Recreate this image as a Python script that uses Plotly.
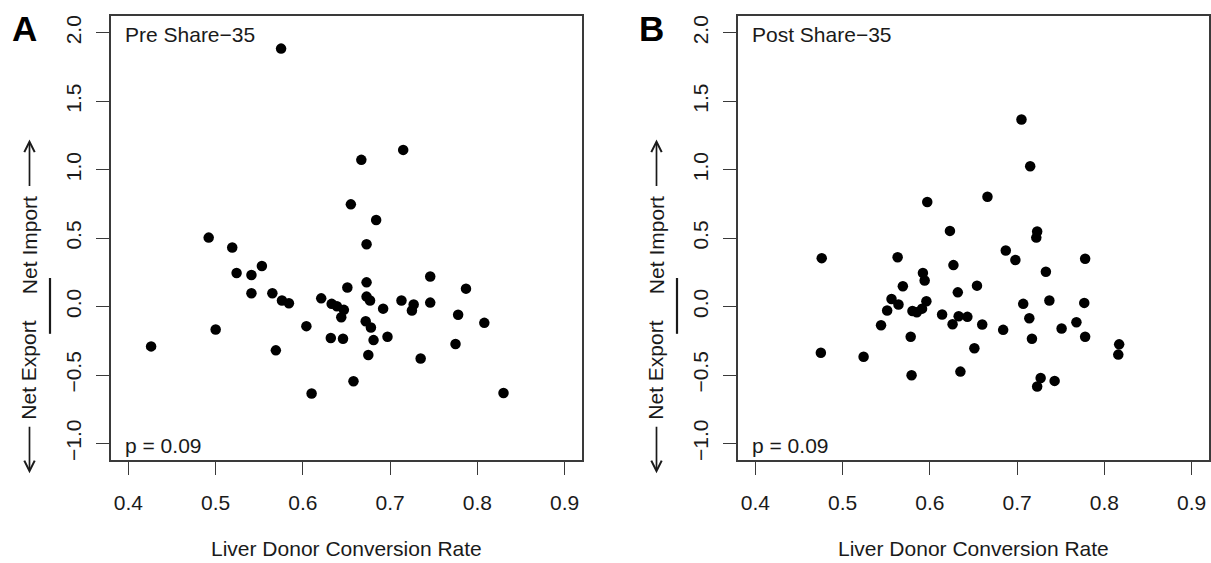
import plotly.graph_objects as go

# ---------------- data ----------------
pre_rate = [0.426, 0.492, 0.500, 0.519, 0.524, 0.541, 0.553, 0.541, 0.565, 0.569,
            0.575, 0.576, 0.584, 0.604, 0.610, 0.621, 0.633, 0.639, 0.644, 0.647,
            0.651, 0.655, 0.658, 0.632, 0.646, 0.667, 0.673, 0.673, 0.673, 0.677,
            0.672, 0.678, 0.681, 0.675, 0.684, 0.692, 0.697, 0.715, 0.713, 0.727,
            0.725, 0.735, 0.746, 0.746, 0.775, 0.778, 0.787, 0.808, 0.830]
pre_net = [-0.291, 0.504, -0.167, 0.432, 0.245, 0.231, 0.296, 0.097, 0.097, -0.320,
           1.885, 0.044, 0.024, -0.143, -0.635, 0.060, 0.020, 0.002, -0.078, -0.024,
           0.140, 0.747, -0.546, -0.230, -0.235, 1.072, 0.456, 0.177, 0.073, 0.044,
           -0.107, -0.153, -0.245, -0.354, 0.633, -0.015, -0.221, 1.145, 0.044, 0.015,
           -0.029, -0.380, 0.220, 0.029, -0.274, -0.060, 0.131, -0.119, -0.631]

post_rate = [0.476, 0.475, 0.524, 0.544, 0.551, 0.556, 0.563, 0.564, 0.569, 0.578,
             0.579, 0.580, 0.585, 0.591, 0.592, 0.594, 0.596, 0.597, 0.614, 0.623,
             0.626, 0.627, 0.632, 0.633, 0.635, 0.643, 0.651, 0.654, 0.660, 0.666,
             0.684, 0.687, 0.698, 0.705, 0.707, 0.714, 0.715, 0.717, 0.722, 0.723,
             0.723, 0.727, 0.733, 0.737, 0.743, 0.751, 0.768, 0.777, 0.778, 0.778,
             0.816, 0.817]
post_net = [0.354, -0.337, -0.366, -0.136, -0.029, 0.056, 0.361, 0.015, 0.148, -0.220,
            -0.502, -0.032, -0.041, -0.015, 0.245, 0.191, 0.039, 0.764, -0.058, 0.553,
            -0.129, 0.303, 0.104, -0.070, -0.475, -0.075, -0.305, 0.153, -0.131, 0.802,
            -0.170, 0.410, 0.340, 1.367, 0.020, -0.085, 1.025, -0.235, 0.504, 0.548,
            -0.584, -0.522, 0.255, 0.044, -0.543, -0.160, -0.114, 0.027, -0.220, 0.349,
            -0.351, -0.276]

x_ticks = [0.4, 0.5, 0.6, 0.7, 0.8, 0.9]
x_tick_labels = ["0.4", "0.5", "0.6", "0.7", "0.8", "0.9"]
y_ticks = [-1.0, -0.5, 0.0, 0.5, 1.0, 1.5, 2.0]
y_tick_labels = ["\u22121.0", "\u22120.5", "0.0", "0.5", "1.0", "1.5", "2.0"]

panel_letters = ["A", "B"]
panel_titles = ["Pre Share\u221235", "Post Share\u221235"]
p_labels = ["p = 0.09", "p = 0.09"]
x_title = "Liver Donor Conversion Rate"

# ---------------- figure ----------------
W, H = 1211, 563
FONT = "Liberation Sans, Arial, Helvetica, sans-serif"
TXT = "#1a1a1a"
LINE = "#3a3a3a"
FS = 21

def px(v):
    return v / W

def py(v):
    return 1 - v / H

fig = go.Figure()
fig.add_trace(go.Scatter(x=pre_rate, y=pre_net, mode="markers",
                         marker=dict(color="black", size=10.5),
                         xaxis="x", yaxis="y", hoverinfo="x+y"))
fig.add_trace(go.Scatter(x=post_rate, y=post_net, mode="markers",
                         marker=dict(color="black", size=10.5),
                         xaxis="x2", yaxis="y2", hoverinfo="x+y"))

common = dict(showgrid=False, zeroline=False, showline=True, mirror=True,
              linecolor=LINE, linewidth=1.5, ticks="outside", ticklen=13,
              tickwidth=1.3, tickcolor=LINE,
              tickfont=dict(family=FONT, size=FS, color=TXT))

left_dom = [px(111), px(582)]
right_dom = [px(738), px(1209)]
y_dom = [py(460.5), py(15.5)]

fig.update_layout(
    width=W, height=H,
    margin=dict(l=0, r=0, t=0, b=0),
    plot_bgcolor="white", paper_bgcolor="white",
    showlegend=False,
    xaxis=dict(domain=left_dom, range=[0.38, 0.92], tickvals=x_ticks,
               ticktext=x_tick_labels, anchor="y", ticklabelstandoff=10, **common),
    yaxis=dict(domain=y_dom, range=[-1.12, 2.12], tickvals=y_ticks,
               ticktext=y_tick_labels, tickangle=-90, anchor="x",
               ticklabelstandoff=7, **common),
    xaxis2=dict(domain=right_dom, range=[0.38, 0.92], tickvals=x_ticks,
                ticktext=x_tick_labels, anchor="y2", ticklabelstandoff=10, **common),
    yaxis2=dict(domain=y_dom, range=[-1.12, 2.12], tickvals=y_ticks,
                ticktext=y_tick_labels, tickangle=-90, anchor="x2",
                ticklabelstandoff=7, **common),
)

annotations = []
shapes = []
for i, off in enumerate([0, 627]):
    # panel letter
    annotations.append(dict(text="<b>%s</b>" % panel_letters[i], x=px(10 + off), y=py(28),
                            xref="paper", yref="paper", xanchor="left", yanchor="middle",
                            showarrow=False, font=dict(family=FONT, size=35, color="black")))
    # panel title
    annotations.append(dict(text=panel_titles[i], x=px(123 + off), y=py(34),
                            xref="paper", yref="paper", xanchor="left", yanchor="middle",
                            showarrow=False, font=dict(family=FONT, size=FS, color=TXT)))
    # p-value
    annotations.append(dict(text=p_labels[i], x=px(123 + off), y=py(446),
                            xref="paper", yref="paper", xanchor="left", yanchor="middle",
                            showarrow=False, font=dict(family=FONT, size=FS, color=TXT)))
    # x title
    annotations.append(dict(text=x_title, x=px(346.5 + off), y=py(549),
                            xref="paper", yref="paper", xanchor="center", yanchor="middle",
                            showarrow=False, font=dict(family=FONT, size=FS, color=TXT)))
    # y title parts
    annotations.append(dict(text="Net Export", x=px(29 + off), y=py(371),
                            xref="paper", yref="paper", xanchor="center", yanchor="middle",
                            textangle=-90, showarrow=False,
                            font=dict(family=FONT, size=FS, color=TXT)))
    annotations.append(dict(text="Net Import", x=px(29 + off), y=py(245),
                            xref="paper", yref="paper", xanchor="center", yanchor="middle",
                            textangle=-90, showarrow=False,
                            font=dict(family=FONT, size=FS, color=TXT)))
    # arrows
    annotations.append(dict(text="", x=px(29.5 + off), y=py(474), xref="paper", yref="paper",
                            ax=0, ay=-48, showarrow=True, arrowhead=5, arrowsize=1.2,
                            arrowwidth=1.7, arrowcolor=TXT, standoff=0, startstandoff=0))
    annotations.append(dict(text="", x=px(29.5 + off), y=py(139), xref="paper", yref="paper",
                            ax=0, ay=48, showarrow=True, arrowhead=5, arrowsize=1.2,
                            arrowwidth=1.7, arrowcolor=TXT, standoff=0, startstandoff=0))
    # separator bar
    shapes.append(dict(type="line", xref="paper", yref="paper",
                       x0=px(50 + off), x1=px(50 + off), y0=py(278), y1=py(334),
                       line=dict(color=TXT, width=2.2)))

fig.update_layout(annotations=annotations, shapes=shapes)
fig.write_html("out.html", config={"displayModeBar": False},
               post_script="document.body.style.margin='0px';document.body.style.overflow='hidden';")
